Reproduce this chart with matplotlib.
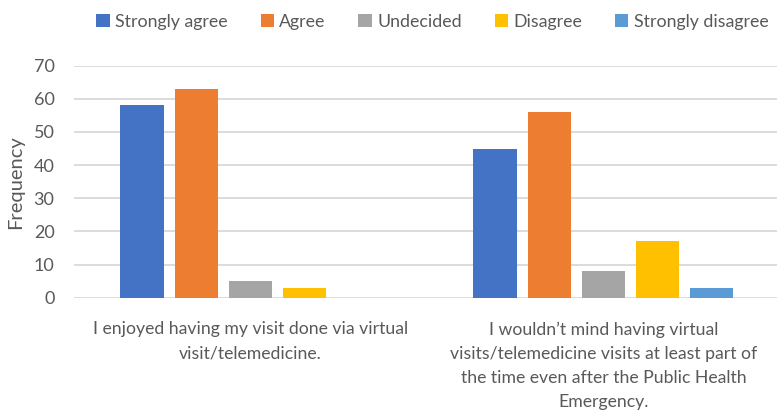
import matplotlib.pyplot as plt
import numpy as np

categories = [
    "I enjoyed having my visit done via virtual\nvisit/telemedicine.",
    "I wouldn\u2019t mind having virtual\nvisits/telemedicine visits at least part of\nthe time even after the Public Health\nEmergency.",
]
series_names = ["Strongly agree", "Agree", "Undecided", "Disagree", "Strongly disagree"]
strongly_agree = [58, 45]
agree = [63, 56]
undecided = [5, 8]
disagree = [3, 17]
strongly_disagree = [0, 3]
series_values = [strongly_agree, agree, undecided, disagree, strongly_disagree]
colors = ["#4472C4", "#ED7D31", "#A5A5A5", "#FFC000", "#5B9BD5"]

TEXT = "#595959"
plt.rcParams["font.family"] = ["Lato", "DejaVu Sans"]

fig = plt.figure(figsize=(7.77, 4.15), dpi=100)
ax = fig.add_axes([0.0952, 0.2827, 0.9086, 0.559])

x = np.arange(len(categories))
step = 0.1536
width = 0.1223
for i, (name, vals, c) in enumerate(zip(series_names, series_values, colors)):
    ax.bar(x + (i - 2) * step, vals, width=width, color=c, label=name, zorder=3)

ax.set_xlim(-0.5, 1.5)
ax.set_ylim(0, 70)
ax.set_yticks(range(0, 71, 10))
ax.grid(axis="y", color="#D9D9D9", linewidth=1.3, zorder=0)
for s in ax.spines.values():
    s.set_visible(False)
ax.tick_params(axis="both", length=0, colors=TEXT, labelsize=13)
ax.tick_params(axis="y", pad=14)
ax.set_xticks(x)
ax.set_xticklabels(categories, fontsize=12.7, color=TEXT, linespacing=1.62, va="top")
ax.tick_params(axis="x", pad=17)
ax.set_ylabel("Frequency", fontsize=14.5, color=TEXT, labelpad=7)

leg = fig.legend(
    loc="center left", bbox_to_anchor=(0.124, 0.948), ncol=5, frameon=False,
    fontsize=12.8, handlelength=0.75, handleheight=0.75, handletextpad=0.3,
    columnspacing=1.85, borderaxespad=0, borderpad=0,
)
for t in leg.get_texts():
    t.set_color(TEXT)

fig.savefig("out.png", dpi=100)
